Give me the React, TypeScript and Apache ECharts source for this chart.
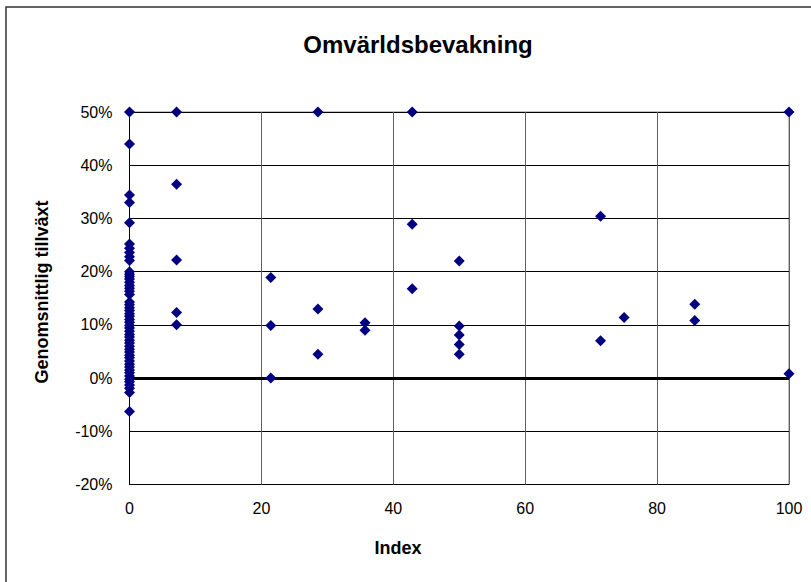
import React, { useEffect, useRef } from "react";
import * as echarts from "echarts";

// Index (x) and average growth in percent (y) for every company
const indexValues: number[] = [
  0, 0, 0, 0, 0, 0, 0, 0, 0, 0, 0, 0, 0, 0, 0, 0, 0, 0, 0, 0, 0, 0, 0, 0, 0,
  0, 0, 0, 0, 0, 0, 0, 0, 0, 0, 0, 0, 0, 0, 0, 0, 0, 0, 0, 0, 0, 0, 0, 0, 0, 0,
  7.14, 7.14, 7.14, 7.14, 7.14,
  21.43, 21.43, 21.43,
  28.57, 28.57, 28.57,
  35.71, 35.71,
  42.86, 42.86, 42.86,
  50, 50, 50, 50, 50,
  71.43, 71.43,
  75,
  85.71, 85.71,
  100, 100,
];

const growthValues: number[] = [
  50, 44, 34.4, 33, 29.2, 25.2, 24.4, 23.6, 22.8, 22.1, 20, 19.5, 19.1, 18.6,
  18, 17.4, 16.9, 16.3, 15.7, 14.3, 13.8, 13.2, 12.7, 12.1, 11.6, 11, 10.5,
  9.9, 9.4, 8.8, 8.2, 7.7, 7.1, 6.6, 6, 5.4, 4.9, 4.3, 3.8, 3.2, 2.6, 2.1,
  1.5, 1, 0.4, -0.2, -0.7, -1.3, -1.9, -2.7, -6.3,
  50, 36.4, 22.2, 12.3, 10.0,
  18.9, 9.9, 0,
  50, 13.0, 4.5,
  10.4, 9.0,
  50, 28.9, 16.8,
  22.0, 9.8, 8.1, 6.3, 4.5,
  30.4, 7.0,
  11.4,
  13.85, 10.8,
  50, 0.8,
];

const xTicks = { min: 0, max: 100, interval: 20 };
const yTicks = { min: -20, max: 50, interval: 10 };

const titleText = "Omvärldsbevakning";
const xName = "Index";
const yName = "Genomsnittlig tillväxt";

export default function App() {
  const ref = useRef<HTMLDivElement>(null);

  useEffect(() => {
    document.body.style.margin = "0";
    if (!ref.current) return;
    const chart = echarts.init(ref.current, undefined, { renderer: "svg" });
    const points = indexValues.map((x, i) => [x, growthValues[i]]);
    const font = "'Liberation Sans', Arial, sans-serif";

    chart.setOption({
      animation: false,
      backgroundColor: "#ffffff",
      grid: {
        left: 129.5,
        right: 22,
        top: 112,
        bottom: 97.5,
        show: true,
        borderColor: "#808080",
        borderWidth: 1,
      },
      xAxis: {
        type: "value",
        min: xTicks.min,
        max: xTicks.max,
        interval: xTicks.interval,
        axisLine: { show: false },
        axisTick: { show: false },
        axisLabel: {
          margin: 16,
          color: "#000",
          fontFamily: font,
          fontSize: 16,
        },
        splitLine: { show: true, lineStyle: { color: "#606060", width: 1 } },
      },
      yAxis: {
        type: "value",
        min: yTicks.min,
        max: yTicks.max,
        interval: yTicks.interval,
        axisLine: { show: true, onZero: false, lineStyle: { color: "#000", width: 1 } },
        axisTick: { show: false },
        axisLabel: {
          margin: 17,
          color: "#000",
          fontFamily: font,
          fontSize: 16,
          formatter: "{value}%",
        },
        splitLine: { show: true, lineStyle: { color: "#000", width: 1 } },
      },
      graphic: [
        {
          type: "rect",
          shape: { x: 6, y: 7, width: 830, height: 600 },
          style: { fill: "none", stroke: "#333", lineWidth: 1.5 },
          silent: true,
        },
        {
          type: "text",
          x: 418,
          y: 44,
          style: {
            text: titleText,
            fontFamily: font,
            fontSize: 24,
            fontWeight: "bold",
            fill: "#000",
            align: "center",
            verticalAlign: "middle",
          },
        },
        {
          type: "text",
          x: 398,
          y: 548,
          style: {
            text: xName,
            fontFamily: font,
            fontSize: 18,
            fontWeight: "bold",
            fill: "#000",
            align: "center",
            verticalAlign: "middle",
          },
        },
        {
          type: "text",
          x: 42,
          y: 292,
          rotation: Math.PI / 2,
          style: {
            text: yName,
            fontFamily: font,
            fontSize: 18,
            fontWeight: "bold",
            fill: "#000",
            align: "center",
            verticalAlign: "middle",
          },
        },
      ],
      series: [
        {
          type: "scatter",
          data: points,
          symbol: "diamond",
          symbolSize: 11,
          itemStyle: { color: "#000080", opacity: 1 },
          z: 5,
          markLine: {
            silent: true,
            symbol: "none",
            label: { show: false },
            lineStyle: { color: "#000", width: 3, type: "solid" },
            data: [{ yAxis: 0 }],
            z: 4,
          },
        },
      ],
    });

    return () => chart.dispose();
  }, []);

  return <div ref={ref} style={{ width: 811, height: 582 }} />;
}
